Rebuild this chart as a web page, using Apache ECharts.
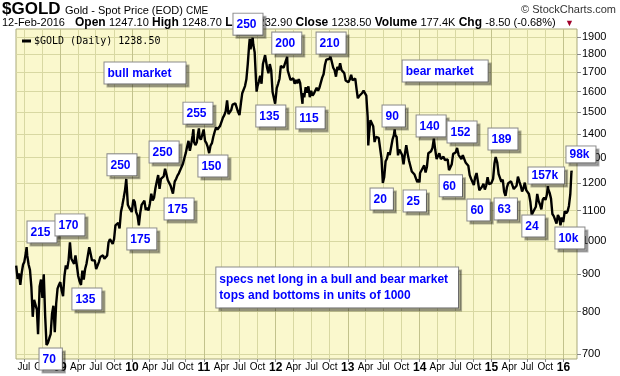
<!DOCTYPE html>
<html lang="en">

<head>
  <meta charset="UTF-8">
  <title>$GOLD</title>
  <script src="https://cdn.jsdelivr.net/npm/echarts@6/dist/echarts.min.js"></script>
  <style>
    * {
      padding: 0;
      margin: 0;
    }

    #main {
      width: 620px;
      height: 376px;
    }
  </style>
</head>

<body>
  <div id="main"></div>
  <script>
    // weekly-ish closes
    var dates = [
      '2008-05-23', '2008-05-30', '2008-06-06', '2008-06-13', '2008-06-20', '2008-06-27', '2008-07-03', '2008-07-11', '2008-07-15', '2008-07-18', '2008-07-25',
      '2008-08-01', '2008-08-08', '2008-08-15', '2008-08-22', '2008-08-29', '2008-09-05', '2008-09-11', '2008-09-19', '2008-09-26', '2008-10-03', '2008-10-10',
      '2008-10-17', '2008-10-24', '2008-10-31', '2008-11-07', '2008-11-14', '2008-11-21', '2008-11-28', '2008-12-05', '2008-12-12', '2008-12-19', '2008-12-26',
      '2009-01-02', '2009-01-09', '2009-01-16', '2009-01-23', '2009-01-30', '2009-02-06', '2009-02-13', '2009-02-20', '2009-02-27', '2009-03-06', '2009-03-13',
      '2009-03-20', '2009-03-27', '2009-04-03', '2009-04-10', '2009-04-17', '2009-04-24', '2009-05-01', '2009-05-08', '2009-05-15', '2009-05-22', '2009-05-29',
      '2009-06-05', '2009-06-12', '2009-06-19', '2009-06-26', '2009-07-03', '2009-07-10', '2009-07-17', '2009-07-24', '2009-07-31', '2009-08-07', '2009-08-14',
      '2009-08-21', '2009-08-28', '2009-09-04', '2009-09-11', '2009-09-18', '2009-09-25', '2009-10-02', '2009-10-09', '2009-10-16', '2009-10-23', '2009-10-30',
      '2009-11-06', '2009-11-13', '2009-11-20', '2009-11-27', '2009-12-03', '2009-12-11', '2009-12-18', '2009-12-24', '2009-12-31',
      '2010-01-08', '2010-01-15', '2010-01-22', '2010-01-29', '2010-02-05', '2010-02-12', '2010-02-19', '2010-02-26', '2010-03-05', '2010-03-12', '2010-03-19',
      '2010-03-26', '2010-04-02', '2010-04-09', '2010-04-16', '2010-04-23', '2010-04-30', '2010-05-07', '2010-05-14', '2010-05-21', '2010-05-28', '2010-06-04',
      '2010-06-11', '2010-06-18', '2010-06-25', '2010-07-02', '2010-07-09', '2010-07-16', '2010-07-23', '2010-07-28', '2010-08-06', '2010-08-13', '2010-08-20',
      '2010-08-27', '2010-09-03', '2010-09-10', '2010-09-17', '2010-09-24', '2010-10-01', '2010-10-08', '2010-10-15', '2010-10-22', '2010-10-29', '2010-11-05',
      '2010-11-09', '2010-11-12', '2010-11-19', '2010-11-26', '2010-12-03', '2010-12-07', '2010-12-10', '2010-12-17', '2010-12-24', '2010-12-31',
      '2011-01-07', '2011-01-14', '2011-01-21', '2011-01-28', '2011-02-04', '2011-02-11', '2011-02-18', '2011-02-25', '2011-03-04', '2011-03-11', '2011-03-18',
      '2011-03-25', '2011-04-01', '2011-04-08', '2011-04-15', '2011-04-22', '2011-04-29', '2011-05-06', '2011-05-13', '2011-05-20', '2011-05-27', '2011-06-03',
      '2011-06-10', '2011-06-17', '2011-06-24', '2011-07-01', '2011-07-08', '2011-07-15', '2011-07-22', '2011-07-29', '2011-08-05', '2011-08-12', '2011-08-19',
      '2011-08-22', '2011-08-26', '2011-09-02', '2011-09-06', '2011-09-09', '2011-09-16', '2011-09-23', '2011-09-26', '2011-09-30', '2011-10-07', '2011-10-14',
      '2011-10-21', '2011-10-28', '2011-11-04', '2011-11-08', '2011-11-11', '2011-11-18', '2011-11-25', '2011-12-02', '2011-12-09', '2011-12-16', '2011-12-23',
      '2011-12-29',
      '2012-01-06', '2012-01-13', '2012-01-20', '2012-01-27', '2012-02-03', '2012-02-10', '2012-02-17', '2012-02-28', '2012-03-02', '2012-03-09', '2012-03-16',
      '2012-03-23', '2012-03-30', '2012-04-06', '2012-04-13', '2012-04-20', '2012-04-27', '2012-05-04', '2012-05-11', '2012-05-16', '2012-05-18', '2012-05-25',
      '2012-06-01', '2012-06-08', '2012-06-15', '2012-06-22', '2012-06-29', '2012-07-06', '2012-07-13', '2012-07-20', '2012-07-27', '2012-08-03', '2012-08-10',
      '2012-08-17', '2012-08-24', '2012-08-31', '2012-09-07', '2012-09-14', '2012-09-21', '2012-09-28', '2012-10-05', '2012-10-12', '2012-10-19', '2012-10-26',
      '2012-11-02', '2012-11-09', '2012-11-16', '2012-11-23', '2012-11-30', '2012-12-07', '2012-12-14', '2012-12-21', '2012-12-28',
      '2013-01-04', '2013-01-11', '2013-01-18', '2013-01-25', '2013-02-01', '2013-02-08', '2013-02-15', '2013-02-21', '2013-02-28', '2013-03-08', '2013-03-15',
      '2013-03-22', '2013-03-28', '2013-04-05', '2013-04-12', '2013-04-15', '2013-04-19', '2013-04-26', '2013-05-03', '2013-05-10', '2013-05-17', '2013-05-24',
      '2013-05-31', '2013-06-07', '2013-06-14', '2013-06-21', '2013-06-28', '2013-07-05', '2013-07-12', '2013-07-19', '2013-07-26', '2013-08-02', '2013-08-09',
      '2013-08-16', '2013-08-23', '2013-08-27', '2013-08-30', '2013-09-06', '2013-09-13', '2013-09-20', '2013-09-27', '2013-10-04', '2013-10-11', '2013-10-18',
      '2013-10-25', '2013-11-01', '2013-11-08', '2013-11-15', '2013-11-22', '2013-11-29', '2013-12-06', '2013-12-13', '2013-12-20', '2013-12-27', '2013-12-31',
      '2014-01-03', '2014-01-10', '2014-01-17', '2014-01-24', '2014-01-31', '2014-02-07', '2014-02-14', '2014-02-21', '2014-02-28', '2014-03-07', '2014-03-14',
      '2014-03-17', '2014-03-21', '2014-03-28', '2014-04-04', '2014-04-11', '2014-04-18', '2014-04-25', '2014-05-02', '2014-05-09', '2014-05-16', '2014-05-23',
      '2014-05-30', '2014-06-03', '2014-06-13', '2014-06-20', '2014-06-27', '2014-07-03', '2014-07-10', '2014-07-18', '2014-07-25', '2014-08-01', '2014-08-08',
      '2014-08-15', '2014-08-22', '2014-08-29', '2014-09-05', '2014-09-12', '2014-09-19', '2014-09-26', '2014-10-03', '2014-10-10', '2014-10-17', '2014-10-24',
      '2014-10-31', '2014-11-07', '2014-11-14', '2014-11-21', '2014-11-28', '2014-12-05', '2014-12-12', '2014-12-19', '2014-12-26', '2014-12-31',
      '2015-01-09', '2015-01-16', '2015-01-22', '2015-01-30', '2015-02-06', '2015-02-13', '2015-02-20', '2015-02-27', '2015-03-06', '2015-03-13', '2015-03-17',
      '2015-03-20', '2015-03-27', '2015-04-03', '2015-04-10', '2015-04-17', '2015-04-24', '2015-05-01', '2015-05-08', '2015-05-15', '2015-05-22', '2015-05-29',
      '2015-06-05', '2015-06-12', '2015-06-19', '2015-06-26', '2015-07-02', '2015-07-10', '2015-07-17', '2015-07-24', '2015-07-31', '2015-08-07', '2015-08-14',
      '2015-08-21', '2015-08-28', '2015-09-04', '2015-09-11', '2015-09-18', '2015-09-25', '2015-10-02', '2015-10-09', '2015-10-14', '2015-10-16', '2015-10-23',
      '2015-10-30', '2015-11-06', '2015-11-13', '2015-11-20', '2015-11-27', '2015-12-04', '2015-12-11', '2015-12-17', '2015-12-24', '2015-12-31',
      '2016-01-08', '2016-01-15', '2016-01-22', '2016-01-29', '2016-02-05', '2016-02-11', '2016-02-12'
    ];
    var closes = [
      925, 887, 902, 870, 904, 928, 935, 962, 980, 955, 928,
      912, 865, 787, 830, 833, 805, 745, 866, 885, 835, 900,
      790, 720, 725, 735, 745, 795, 815, 750, 820, 860, 870,
      878, 855, 840, 895, 925, 915, 940, 995, 945, 940, 930,
      955, 925, 895, 880, 870, 910, 885, 915, 930, 955, 980,
      960, 940, 935, 940, 915, 910, 935, 950, 955, 955, 945,
      950, 955, 995, 1005, 1010, 990, 1005, 1050, 1052, 1058, 1040,
      1095, 1118, 1145, 1175, 1215, 1120, 1110, 1105, 1095,
      1138, 1130, 1095, 1083, 1050, 1092, 1120, 1118, 1135, 1102, 1110,
      1100, 1125, 1160, 1135, 1145, 1180, 1205, 1230, 1178, 1215, 1215,
      1225, 1255, 1255, 1210, 1210, 1190, 1190, 1160, 1205, 1215, 1228,
      1237, 1250, 1245, 1275, 1297, 1318, 1345, 1370, 1328, 1357, 1395,
      1421, 1365, 1352, 1363, 1406, 1425, 1385, 1375, 1380, 1420,
      1370, 1360, 1343, 1318, 1350, 1360, 1388, 1410, 1430, 1420, 1420,
      1437, 1430, 1474, 1486, 1504, 1556, 1491, 1492, 1510, 1536, 1542,
      1542, 1540, 1500, 1486, 1541, 1592, 1601, 1628, 1663, 1745, 1852,
      1890, 1828, 1877, 1895, 1856, 1811, 1655, 1600, 1625, 1650, 1682,
      1640, 1745, 1755, 1795, 1790, 1725, 1695, 1745, 1712, 1598, 1606,
      1540,
      1617, 1640, 1665, 1735, 1725, 1725, 1727, 1785, 1710, 1710, 1660,
      1662, 1668, 1640, 1660, 1642, 1664, 1645, 1580, 1540, 1592, 1572,
      1622, 1595, 1627, 1572, 1604, 1580, 1590, 1585, 1620, 1605, 1620,
      1616, 1672, 1690, 1740, 1770, 1772, 1773, 1785, 1757, 1725, 1712,
      1677, 1730, 1713, 1750, 1713, 1705, 1696, 1657, 1656,
      1648, 1662, 1687, 1658, 1668, 1667, 1609, 1567, 1578, 1577, 1593,
      1605, 1598, 1580, 1476, 1350, 1400, 1462, 1468, 1435, 1365, 1387,
      1393, 1383, 1387, 1297, 1200, 1223, 1285, 1296, 1322, 1310, 1312,
      1375, 1395, 1420, 1396, 1387, 1309, 1333, 1336, 1310, 1272, 1315,
      1352, 1315, 1287, 1288, 1244, 1250, 1232, 1235, 1203, 1213, 1202,
      1238, 1248, 1253, 1268, 1240, 1263, 1318, 1323, 1326, 1340, 1380,
      1385, 1332, 1294, 1302, 1318, 1294, 1302, 1303, 1290, 1294, 1292,
      1249, 1243, 1273, 1315, 1318, 1321, 1340, 1310, 1305, 1294, 1310,
      1305, 1280, 1287, 1267, 1230, 1216, 1218, 1192, 1222, 1238, 1231,
      1172, 1169, 1186, 1197, 1175, 1191, 1222, 1195, 1195, 1199,
      1216, 1277, 1302, 1279, 1234, 1227, 1204, 1212, 1167, 1152, 1148,
      1183, 1199, 1201, 1206, 1203, 1177, 1174, 1189, 1224, 1206, 1190,
      1168, 1180, 1201, 1173, 1168, 1159, 1131, 1085, 1095, 1094, 1113,
      1159, 1134, 1121, 1104, 1138, 1146, 1137, 1156, 1188, 1177, 1163,
      1142, 1088, 1081, 1077, 1056, 1085, 1075, 1050, 1076, 1061,
      1098, 1090, 1097, 1116, 1158, 1247, 1238.5
    ];
    var priceTicks = [700, 800, 900, 1000, 1100, 1200, 1300, 1400, 1500, 1600, 1700, 1800, 1900];
    var quarterTicks = [
      '2008-07-01', '2008-10-01', '2009-01-01', '2009-04-01', '2009-07-01', '2009-10-01', '2010-01-01', '2010-04-01', '2010-07-01', '2010-10-01',
      '2011-01-01', '2011-04-01', '2011-07-01', '2011-10-01', '2012-01-01', '2012-04-01', '2012-07-01', '2012-10-01', '2013-01-01', '2013-04-01',
      '2013-07-01', '2013-10-01', '2014-01-01', '2014-04-01', '2014-07-01', '2014-10-01', '2015-01-01', '2015-04-01', '2015-07-01', '2015-10-01',
      '2016-01-01'
    ];
    var monthNames = ['Jan', 'Feb', 'Mar', 'Apr', 'May', 'Jun', 'Jul', 'Aug', 'Sep', 'Oct', 'Nov', 'Dec'];

    // annotation boxes: text, anchor date, anchor price (box top-left)
    var noteText = ['215', '170', '135', '70', '250', 'bull market', '175', '250', '175', '255', '150', '250', '135', '200', '115', '210',
      'bear market', '90', '20', '25', '140', '152', '60', '189', '60', '63', '24', '157k', '98k', '10k',
      'specs net long in a bull and bear market\ntops and bottoms in units of 1000'];
    var noteDates = ['2008-07-22', '2008-12-11', '2009-03-07', '2008-09-21', '2009-09-01', '2009-08-17', '2009-12-11', '2010-04-03', '2010-06-18', '2010-09-22',
      '2010-12-07', '2011-06-03', '2011-09-27', '2011-12-17', '2012-04-17', '2012-07-29', '2013-10-09', '2013-06-29', '2013-04-29', '2013-10-14',
      '2013-12-19', '2014-05-25', '2014-04-15', '2014-12-19', '2014-09-03', '2015-01-19', '2015-06-09', '2015-07-10', '2016-01-19', '2015-11-24',
      '2011-03-08'];
    var notePrices = [1061, 1085, 859, 711, 1311, 1751, 1038, 1365, 1141, 1543, 1306, 1942, 1529, 1924, 1520, 1924,
      1762, 1529, 1177, 1170, 1482, 1454, 1227, 1422, 1137, 1141, 1081, 1258, 1344, 1041, 918];

    var quoteDate = '12-Feb-2016';
    var quoteNames = ['Open', 'High', 'Low', 'Close', 'Volume', 'Chg'];
    var quoteValues = ['1247.10', '1248.70', '1232.90', '1238.50', '177.4K', '-8.50 (-0.68%)'];

    var FONT = '"Liberation Sans", Arial, sans-serif';
    var chartDom = document.getElementById('main');
    var myChart = echarts.init(chartDom);

    var lineData = dates.map(function (d, i) {
      return [Date.parse(d), Math.log10(closes[i])];
    });

    var notes = noteText.map(function (t, i) {
      var item = { name: t, coord: [Date.parse(noteDates[i]), Math.log10(notePrices[i])] };
      if (t.indexOf('market') > 0 && t.indexOf('\n') < 0) {
        item.label = { padding: [5, 14, 4, 3] };
      } else if (t.indexOf('\n') > 0) {
        item.label = { padding: [4, 10, 4, 3], lineHeight: 16 };
      } else if (t === '157k' || t === '98k') {
        item.label = { padding: [2, 6, 2, 3] };
      }
      if (t === '250' && notePrices[i] > 1900) {
        item.label = { offset: [0, -16] };
      }
      return item;
    });

    var quoteText = '{n|' + quoteDate + '}   ' + quoteNames.map(function (n, i) {
      return '{b|' + n + '} {n|' + quoteValues[i] + '}';
    }).join(' ');

    var option = {
      animation: false,
      textStyle: { fontFamily: FONT },
      grid: {
        left: 16, right: 43, top: 29, bottom: 17,
        show: true,
        backgroundColor: '#faf8cd',
        borderColor: '#a9a97a',
        borderWidth: 1,
        outerBoundsMode: 'none'
      },
      legend: {
        left: 17, top: 31,
        icon: 'rect', itemWidth: 9, itemHeight: 3, itemGap: 4,
        selectedMode: false,
        textStyle: { fontFamily: '"DejaVu Sans Mono", monospace', fontSize: 10, color: '#000', padding: [0, 0, 0, -2] },
        formatter: function (name) { return name + ' ' + closes[closes.length - 1].toFixed(2); },
        data: ['$GOLD (Daily)']
      },
      xAxis: {
        type: 'value',
        min: Date.parse('2008-05-22'),
        max: Date.parse('2016-03-10'),
        axisLine: { show: false },
        axisTick: { show: true, length: 3, lineStyle: { color: '#888' }, customValues: quarterTicks.map(Date.parse) },
        axisLabel: {
          customValues: quarterTicks.map(Date.parse),
          margin: 3,
          color: '#000',
          fontSize: 10,
          fontFamily: FONT,
          formatter: function (v) {
            var d = new Date(v);
            var m = d.getUTCMonth();
            if (m === 0) return '{y|' + String(d.getUTCFullYear()).slice(2) + '}';
            return monthNames[m];
          },
          rich: { y: { fontWeight: 'bold', fontSize: 12, fontFamily: FONT, color: '#000' } }
        },
        splitLine: { show: true, lineStyle: { color: ['#d8d8a2', '#d8d8a2', '#c2c28c', '#d8d8a2'], width: 1 } }
      },
      yAxis: {
        type: 'value',
        position: 'right',
        min: Math.log10(689),
        max: Math.log10(1949),
        axisLine: { show: false },
        axisTick: { show: true, length: 4, lineStyle: { color: '#888' }, customValues: priceTicks.map(Math.log10) },
        axisLabel: {
          customValues: priceTicks.map(Math.log10),
          margin: 5,
          color: '#000',
          fontSize: 11,
          fontFamily: FONT,
          formatter: function (v) { return String(Math.round(Math.pow(10, v))); }
        },
        splitLine: { show: true, lineStyle: { color: '#d8d8a2', width: 1 } }
      },
      graphic: [
        { type: 'text', left: 2, top: 1, style: { text: '$GOLD', font: 'bold 17px ' + FONT, fill: '#000' } },
        { type: 'text', left: 65, top: 5, style: { text: 'Gold - Spot Price (EOD)', font: '11px ' + FONT, fill: '#000' } },
        { type: 'text', left: 186, top: 6, style: { text: 'CME', font: '10px ' + FONT, fill: '#000' } },
        { type: 'text', right: 4, top: 4, style: { text: '\u00a9 StockCharts.com', font: '11px ' + FONT, fill: '#333' } },
        {
          type: 'text', left: 2, top: 17,
          style: {
            text: quoteText,
            fill: '#000',
            rich: {
              n: { fontSize: 11, fontFamily: FONT, fill: '#000' },
              b: { fontSize: 12, fontFamily: FONT, fontWeight: 'bold', fill: '#000' }
            }
          }
        },
        { type: 'text', left: 565, top: 19, style: { text: '\u25bc', font: '9px ' + FONT, fill: '#a0002a' } }
      ],
      series: [
        {
          name: '$GOLD (Daily)',
          type: 'line',
          data: lineData,
          showSymbol: false,
          symbol: 'none',
          color: '#000',
          lineStyle: { color: '#000', width: 2.4 },
          markPoint: {
            silent: true,
            symbol: 'rect',
            symbolSize: 1,
            itemStyle: { color: 'rgba(0,0,0,0)' },
            label: {
              show: true,
              position: [0, 0],
              align: 'left',
              verticalAlign: 'top',
              formatter: '{b}',
              color: '#0000ff',
              fontFamily: FONT,
              fontWeight: 'bold',
              fontSize: 12,
              backgroundColor: '#fff',
              borderColor: '#8a8a8a',
              borderWidth: 1,
              padding: [5, 6, 4, 3],
              shadowColor: 'rgba(0,0,0,0.3)',
              shadowOffsetX: 3,
              shadowOffsetY: 3
            },
            data: notes
          }
        }
      ]
    };

    option && myChart.setOption(option);
  </script>
</body>

</html>
